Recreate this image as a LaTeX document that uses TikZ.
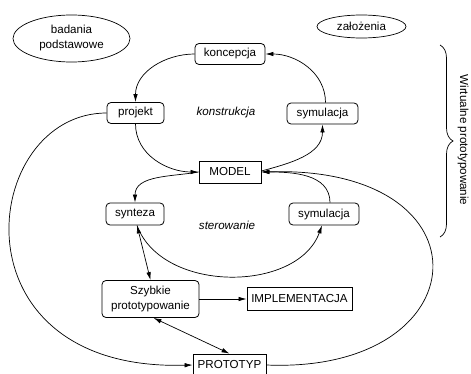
\documentclass[tikz,border=0pt]{standalone}
\usepackage{fontspec}
\setmainfont{Liberation Sans}
\usetikzlibrary{arrows.meta,shapes.geometric,decorations.pathreplacing}

\begin{document}
\begin{tikzpicture}[auto,x=1pt,y=1pt,font=\fontsize{11.6}{15}\selectfont]
\tikzstyle{cloud} = [draw, line width=0.7pt, ellipse, inner sep=0.5pt, align=center];
\tikzstyle{block} = [rectangle, draw, line width=0.8pt, rounded corners=4pt,
inner sep=1pt, minimum height=21pt, align=center];
\tikzstyle{block_sq} = [rectangle, draw, line width=0.8pt, inner sep=1pt, minimum height=22pt];
\tikzstyle{loop_name} = [font=\fontsize{11.6}{15}\selectfont\itshape];
\tikzstyle{line} = [draw, line width=0.7pt, -{Latex[length=8pt,width=4.5pt]}];
\tikzstyle{dline} = [line, {Latex[length=8pt,width=4.5pt]}-{Latex[length=8pt,width=4.5pt]}];

\useasboundingbox (0,0) rectangle (471,373);

% inputs
\node [cloud, minimum width=117pt, minimum height=47pt] (badania) at (71.5,334.5) {badania\\podstawowe};
\node [cloud, minimum width=89pt, minimum height=23pt] (zalozenia) at (361.5,346.5) {założenia};

% konstrukcja loop
\node [block, minimum width=70pt] (koncepcja) at (230,319) {koncepcja};
\node [block, minimum width=57pt] (projekt) at (135.5,260) {projekt};
\node [block, minimum width=71pt] (symulacja_k) at (322.5,259.5) {symulacja};
\node [loop_name] (konstrukcja) at (226,260) {konstrukcja};
\node [block_sq, minimum width=62pt] (model) at (230,201) {MODEL};

% sterowanie loop
\node [block, minimum width=58pt, minimum height=22pt] (synteza) at (135,159) {synteza};
\node [block, minimum width=70pt, minimum height=22pt] (symulacja_s) at (324,159) {symulacja};
\node [loop_name] (sterowanie) at (227,148) {sterowanie};

% bottom part
\node [block, minimum width=97pt, minimum height=37pt] (szybkie) at (150.5,74) {Szybkie\\prototypowanie};
\node [block_sq, minimum width=105pt, minimum height=23pt] (implementacja) at (299.5,74) {IMPLEMENTACJA};
\node [block_sq, minimum width=73pt] (prototyp) at (229.5,8) {PROTOTYP};

% brace on the right
\coordinate (bracetop) at (440,328);
\coordinate (bracebot) at (440,136);
\draw [decorate, decoration={brace, amplitude=13pt}, line width=0.7pt] (bracetop) -- (bracebot);
\node [rotate=-90, anchor=base, inner sep=0pt] (wirtualne) at (460,233) {Wirtualne prototypowanie};

% connections
\draw [line] (koncepcja.west) to [out=180,in=90] (projekt.north);
\draw [line] ([xshift=3pt]symulacja_k.north) to [out=90,in=0] (koncepcja.east);
\draw [line] (projekt.south) to [out=-90,in=180] (model.west);
\draw [line] ([yshift=1pt]model.east) to [out=15,in=-90] (symulacja_k.south);
\draw [line] (model.west) to [out=190,in=90] (synteza.north);
\draw [line] ([xshift=2pt]synteza.south) to [out=-70,in=-110] ([xshift=-2pt]symulacja_s.south);
\draw [line] ([xshift=6pt]symulacja_s.north) to [out=90,in=0] (model.east);
\draw [dline] ([xshift=2pt]synteza.south) -- (szybkie.north);
\draw [line] (szybkie.east) -- (implementacja.west);
\draw [dline] ([xshift=3pt]szybkie.south) -- (prototyp.north);
\draw [line] (projekt.west) .. controls +(-127,0) and +(-244,-7) .. (prototyp.west);
\draw [line] (prototyp.east) .. controls +(214,-9) and +(234,7) .. (model.east);

\end{tikzpicture}
\end{document}
